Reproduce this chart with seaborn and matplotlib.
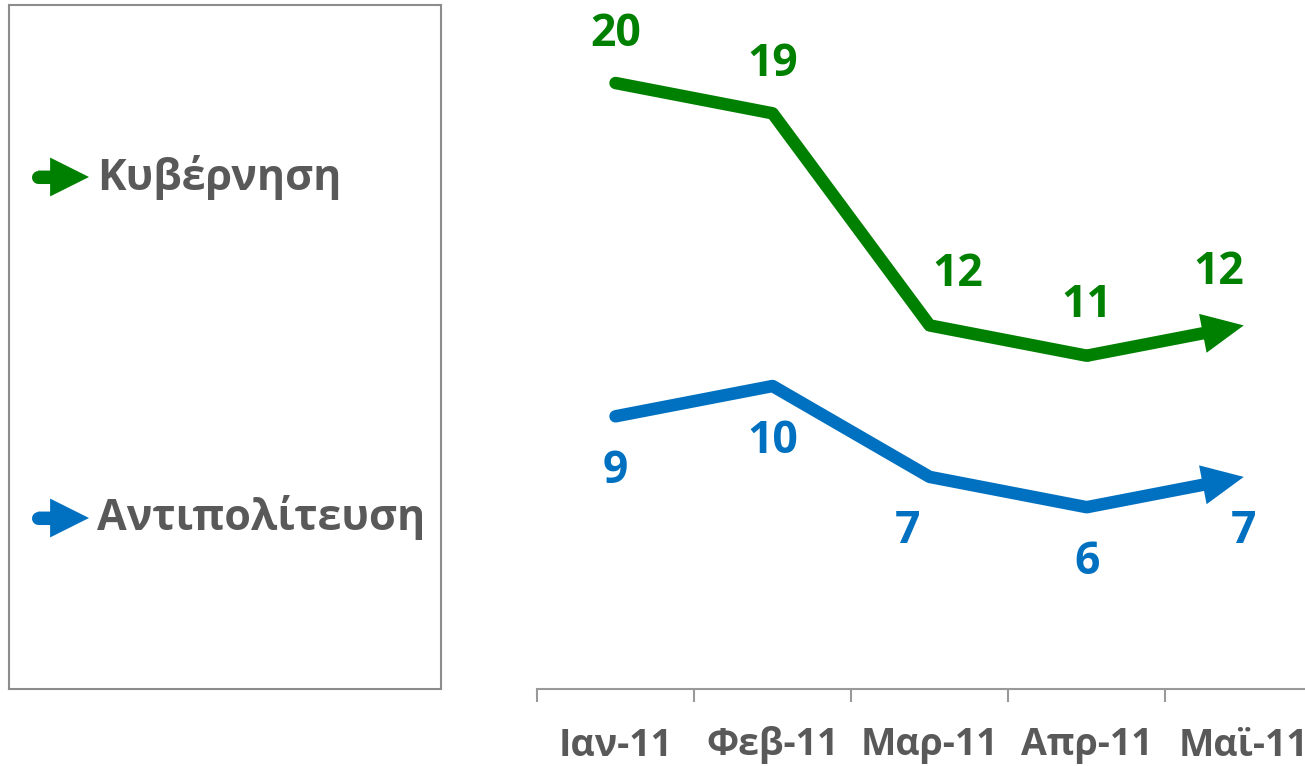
import numpy as np
import pandas as pd
import matplotlib.pyplot as plt
import seaborn as sns
from matplotlib.patches import FancyArrowPatch

# Data
months = ["Ιαν-11", "Φεβ-11", "Μαρ-11", "Απρ-11", "Μαϊ-11"]
gov = [20, 19, 12, 11, 12]
opp = [9, 10, 7, 6, 7]
series_names = ["Κυβέρνηση", "Αντιπολίτευση"]
colors = ["#008000", "#0070C0"]

# label offsets in points (dx, dy)
gov_offsets = [(0, 35), (0, 35), (20, 37), (0, 36), (-18, 38)]
opp_offsets = [(0, -40), (0, -40), (-16, -39), (0, -40), (0, -39)]

sns.set_theme(style="ticks")
plt.rcParams['font.family'] = ['Open Sans', 'DejaVu Sans']

fig = plt.figure(figsize=(13.05, 7.66), dpi=100)
ax = fig.add_axes([537 / 1305, 1 - 689 / 766, 1 - 537 / 1305, 689 / 766])

df = pd.DataFrame({
    "pos": list(range(len(months))) * 2,
    "value": gov + opp,
    "series": [series_names[0]] * len(gov) + [series_names[1]] * len(opp),
})

# body of each line, the last segment is drawn as an arrow
body = df[df["pos"] < len(months) - 1]
sns.lineplot(data=body, x="pos", y="value", hue="series", hue_order=series_names,
             palette=colors, lw=9, ax=ax, legend=False, sort=True)
for line in ax.lines:
    line.set_solid_joinstyle("round")
    line.set_solid_capstyle("round")

for vals, c, offs in [(gov, colors[0], gov_offsets), (opp, colors[1], opp_offsets)]:
    n = len(vals)
    ax.add_patch(FancyArrowPatch((n - 2, vals[-2]), (n - 1, vals[-1]),
                                 arrowstyle="simple,head_length=1.0,head_width=0.95,tail_width=0.3",
                                 mutation_scale=30, color=c, lw=0, shrinkA=0, shrinkB=0))
    for i, v in enumerate(vals):
        ax.annotate(str(v), (i, v), xytext=offs[i], textcoords="offset points",
                    ha="center", va="center", fontsize=32, fontweight="bold", color=c)

ax.set_xlim(-0.5, 4.39)
ax.set_ylim(0, 22.74)
ax.set_xticks(np.arange(-0.5, len(months) - 1, 1))
ax.set_xticklabels([])
ax.set_xticks(np.arange(len(months)), minor=True)
ax.set_xticklabels(months, minor=True, fontsize=27, fontweight="bold", color="#595959")
ax.tick_params(axis="x", which="major", length=9.4, width=1.5, color="#999999", direction="out")
ax.tick_params(axis="x", which="minor", length=0, pad=27)
ax.set_yticks([])
ax.set_xlabel("")
ax.set_ylabel("")
for s in ["top", "right", "left"]:
    ax.spines[s].set_visible(False)
ax.spines["bottom"].set_color("#999999")
ax.spines["bottom"].set_linewidth(1.5)

# Legend box
lax = fig.add_axes([9 / 1305, 1 - 689 / 766, 432 / 1305, 684 / 766])
lax.set_xlim(0, 432)
lax.set_ylim(684, 0)
lax.set_xticks([])
lax.set_yticks([])
for s in lax.spines.values():
    s.set_color("#8c8c8c")
    s.set_linewidth(1.5)

for name, c, y in zip(series_names, colors, [172, 513]):
    lax.plot([29, 55], [y, y], color=c, lw=9.4, solid_capstyle="round")
    lax.add_patch(FancyArrowPatch((29, y), (80, y),
                                  arrowstyle="simple,head_length=1.0,head_width=1.0,tail_width=0.33",
                                  mutation_scale=28, color=c, lw=0, shrinkA=0, shrinkB=0))
    lax.text(88, y, name, fontsize=31, fontweight="bold", color="#595959", va="center", ha="left")

fig.savefig("out.png", dpi=100)
